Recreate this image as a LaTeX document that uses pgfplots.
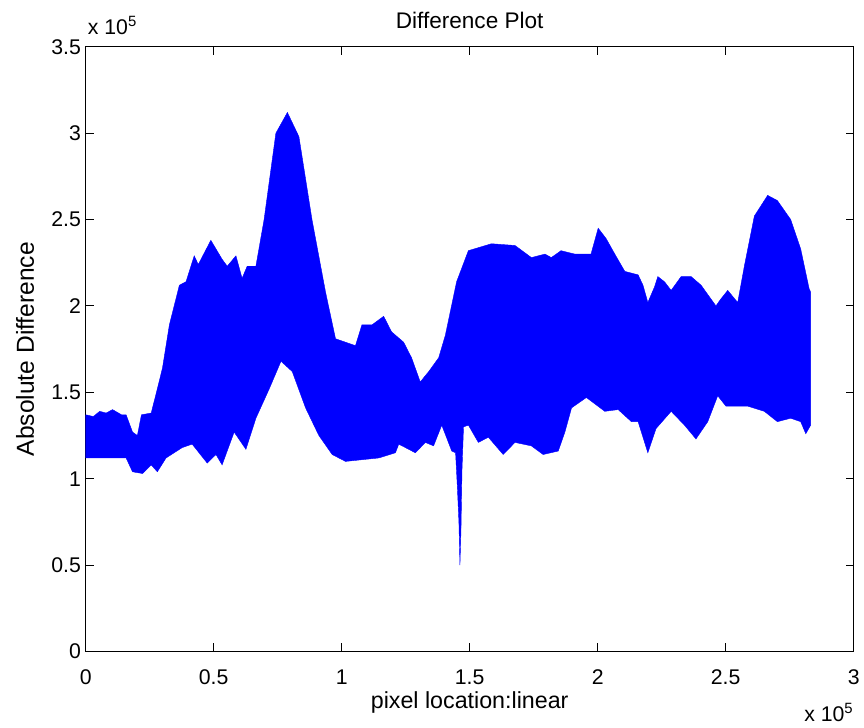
\documentclass[border=0pt]{standalone}
\usepackage{fontspec}
\setmainfont{Liberation Sans}
\usepackage{pgfplots}
\pgfplotsset{compat=1.18}
\begin{document}
\begin{tikzpicture}
\begin{axis}[
    at={(0pt,0pt)}, anchor=south west,
    scale only axis, width=578.25pt, height=455.25pt,
    clip mode=individual,
    xmin=0, xmax=3, ymin=0, ymax=3.5,
    xtick={0,0.5,1,1.5,2,2.5,3},
    ytick={0,0.5,1,1.5,2,2.5,3,3.5},
    xticklabels={0,0.5,1,1.5,2,2.5,3},
    yticklabels={0,0.5,1,1.5,2,2.5,3,3.5},
    tick align=inside, major tick length=6pt,
    tick style={black, line width=0.8pt},
    axis line style={line width=0.8pt},
    every tick label/.append style={font=\fontsize{16}{19}\selectfont},
    xticklabel style={yshift=-10pt},
    /pgf/number format/assume math mode=true,
    title={Difference Plot},
    title style={at={(axis description cs:0.5,1.031)}, anchor=center,
                 font=\fontsize{17}{20}\selectfont},
    xlabel={pixel location:linear},
    xlabel style={at={(axis description cs:0.5,-0.084)}, anchor=center,
                  font=\fontsize{17.5}{21}\selectfont},
    ylabel={Absolute Difference},
    ylabel style={at={(axis description cs:-0.079,0.5)}, anchor=center,
                  font=\fontsize{18.5}{22}\selectfont},
  ]
  % upper envelope left to right, then lower envelope right to left
  \addplot[fill=blue, draw=blue, line width=0.3pt] coordinates {
    (0,1.37) (0.03,1.36) (0.055,1.39) (0.08,1.38) (0.105,1.40) (0.14,1.37)
    (0.158,1.37) (0.183,1.27) (0.202,1.25) (0.218,1.37) (0.256,1.38)
    (0.280,1.52) (0.300,1.64) (0.327,1.89) (0.366,2.12) (0.392,2.14)
    (0.424,2.29) (0.44,2.24) (0.489,2.38) (0.533,2.27) (0.553,2.23)
    (0.587,2.29) (0.611,2.16) (0.631,2.23) (0.665,2.23) (0.697,2.50)
    (0.743,3.00) (0.788,3.12) (0.833,2.98) (0.884,2.50) (0.937,2.08)
    (0.976,1.81) (1.015,1.79) (1.054,1.77) (1.079,1.89) (1.118,1.89)
    (1.164,1.94) (1.195,1.85) (1.242,1.79) (1.273,1.70) (1.307,1.56)
    (1.340,1.62) (1.379,1.70) (1.405,1.83) (1.449,2.14) (1.495,2.32)
    (1.585,2.36) (1.677,2.35) (1.741,2.28) (1.794,2.30) (1.819,2.28)
    (1.857,2.32) (1.911,2.30) (1.974,2.30) (2.002,2.45) (2.033,2.39)
    (2.067,2.30) (2.106,2.20) (2.158,2.18) (2.177,2.12) (2.196,2.02)
    (2.222,2.11) (2.235,2.17) (2.261,2.14) (2.287,2.09) (2.326,2.17)
    (2.365,2.17) (2.404,2.12) (2.462,2.00) (2.481,2.04) (2.508,2.09)
    (2.547,2.02) (2.573,2.23) (2.612,2.52) (2.664,2.64) (2.702,2.61)
    (2.754,2.50) (2.793,2.33) (2.826,2.10) (2.832,2.08)
    (2.832,1.31) (2.813,1.26) (2.793,1.33) (2.754,1.35) (2.702,1.33)
    (2.651,1.39) (2.586,1.42) (2.501,1.42) (2.469,1.48) (2.430,1.33)
    (2.384,1.23) (2.339,1.31) (2.287,1.39) (2.228,1.29) (2.196,1.15)
    (2.158,1.33) (2.132,1.33) (2.080,1.40) (2.028,1.39) (1.956,1.47)
    (1.898,1.41) (1.872,1.27) (1.846,1.16) (1.787,1.14) (1.741,1.19)
    (1.677,1.21) (1.631,1.14) (1.573,1.24) (1.534,1.21) (1.495,1.31)
    (1.476,1.30) (1.470,1.05) (1.466,0.70) (1.462,0.50) (1.458,0.75)
    (1.452,0.95) (1.445,1.15) (1.430,1.16) (1.391,1.31) (1.359,1.19)
    (1.327,1.21) (1.288,1.15) (1.223,1.20) (1.210,1.15) (1.145,1.12)
    (1.015,1.10) (0.963,1.14) (0.911,1.25) (0.859,1.41) (0.807,1.62)
    (0.763,1.68) (0.717,1.52) (0.665,1.35) (0.626,1.17) (0.580,1.27)
    (0.533,1.08) (0.509,1.14) (0.475,1.09) (0.416,1.20) (0.377,1.18)
    (0.314,1.12) (0.280,1.04) (0.256,1.08) (0.222,1.03) (0.183,1.04)
    (0.158,1.12) (0,1.12)
  } -- cycle;
  \node[anchor=base west, font=\fontsize{16}{19}\selectfont, inner sep=0pt]
    at (rel axis cs:0,1) [xshift=1.5pt, yshift=9pt] {x 10\textsuperscript{5}};
  \node[anchor=base east, font=\fontsize{16}{19}\selectfont, inner sep=0pt]
    at (rel axis cs:1,0) [yshift=-53pt] {x 10\textsuperscript{5}};
\end{axis}
\path (-64.5pt,-57pt) rectangle (583.5pt,490.5pt);
\end{tikzpicture}
\end{document}
